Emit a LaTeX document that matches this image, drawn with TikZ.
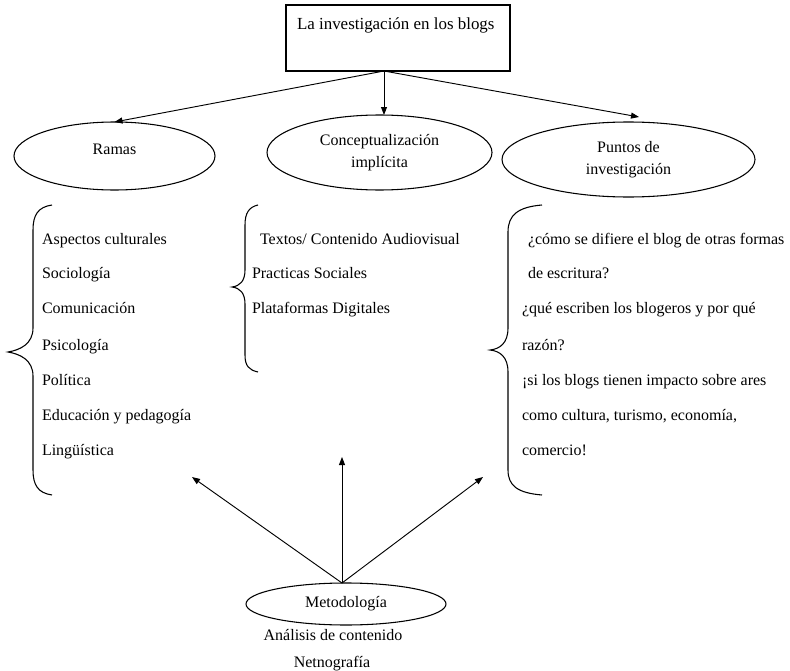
\documentclass[tikz,border=0pt]{standalone}
\usepackage{fontspec}
\setmainfont{Liberation Serif}
\usetikzlibrary{shapes.geometric,arrows.meta}
\begin{document}
\begin{tikzpicture}[x=0.75pt,y=-0.75pt,
  every node/.style={font=\fontsize{12}{16.5}\selectfont, inner sep=0pt, outer sep=0pt},
  oval/.style={draw, ellipse, line width=0.8pt, align=center},
  arr/.style={-{Triangle[length=6pt,width=4.5pt]}, line width=0.7pt},
  bracepath/.style={line width=0.8pt},
  item/.style={anchor=base west}]
\useasboundingbox (0,0) rectangle (790,671);

% top box
\node[draw, line width=0.8pt, minimum width=168pt, minimum height=49.5pt] (box) at (398,38) {};
\node[anchor=base west, font=\fontsize{12.7}{16}\selectfont] (title) at (297,29) {La investigación en los blogs};

% ellipses
\node[oval, minimum width=150.75pt, minimum height=51pt, text depth=10.5pt] (ramas) at (114.5,156) {Ramas};
\node[oval, minimum width=168.75pt, minimum height=56.25pt] (concept) at (379.5,152.5) {Conceptualización\\implícita};
\node[oval, minimum width=189.75pt, minimum height=56.25pt] (puntos) at (628.5,159.5) {Puntos de\\investigación};

% top arrows
\coordinate (src) at (384,71);
\draw[arr] (src) -- (ramas.north);
\draw[arr] (src) -- (src |- concept.north);
\coordinate (ptip) at (639,117);
\draw[arr] (src) -- (ptip);

% braces
\draw[bracepath] (52,205) .. controls (38,207) and (33,215) .. (33,230) -- (33,328)
  .. controls (33,344) and (20,350) .. (8,352) .. controls (20,354) and (33,360) .. (33,376)
  -- (33,470) .. controls (33,485) and (38,493) .. (52,495);
\draw[bracepath] (258,205) .. controls (249,207) and (245,213) .. (245,225) -- (245,270)
  .. controls (245,281) and (240,286) .. (232,287) .. controls (240,288) and (245,293) .. (245,304)
  -- (245,355) .. controls (245,366) and (249,370) .. (258,372);
\draw[bracepath] (542,205) .. controls (518,207) and (508,215) .. (508,232) -- (508,328)
  .. controls (508,343) and (500,349) .. (490,350) .. controls (500,351) and (508,357) .. (508,372)
  -- (508,470) .. controls (508,486) and (518,493) .. (542,495);

% left list
\node[item] (r1) at (42,244) {Aspectos culturales};
\node[item] (r2) at (42,278) {Sociología};
\node[item] (r3) at (42,313) {Comunicación};
\node[item] (r4) at (42,350) {Psicología};
\node[item] (r5) at (42,385) {Política};
\node[item] (r6) at (42,420) {Educación y pedagogía};
\node[item] (r7) at (42,455) {Lingüística};

% middle list
\node[item] (c1) at (260,244) {Textos/ Contenido Audiovisual};
\node[item] (c2) at (252,278) {Practicas Sociales};
\node[item] (c3) at (252,313) {Plataformas Digitales};

% right list
\node[item] (p1) at (528,244) {¿cómo se difiere el blog de otras formas};
\node[item] (p2) at (528,278) {de escritura?};
\node[item] (p3) at (522,313) {¿qué escriben los blogeros y por qué};
\node[item] (p4) at (522,350) {razón?};
\node[item] (p5) at (522,385) {¡si los blogs tienen impacto sobre ares};
\node[item] (p6) at (522,420) {como cultura, turismo, economía,};
\node[item] (p7) at (522,455) {comercio!};

% bottom
\node[oval, minimum width=150pt, minimum height=31.5pt] (metod) at (346,604) {Metodología};
\coordinate (orig) at (342,583);
\coordinate (tl) at (192,477);
\coordinate (tm) at (342,457);
\coordinate (tr) at (483,477);
\draw[arr] (orig) -- (tl);
\draw[arr] (orig) -- (tm);
\draw[arr] (orig) -- (tr);
\node[anchor=base] (m1) at (333,640) {Análisis de contenido};
\node[anchor=base] (m2) at (332,667) {Netnografía};
\end{tikzpicture}
\end{document}
